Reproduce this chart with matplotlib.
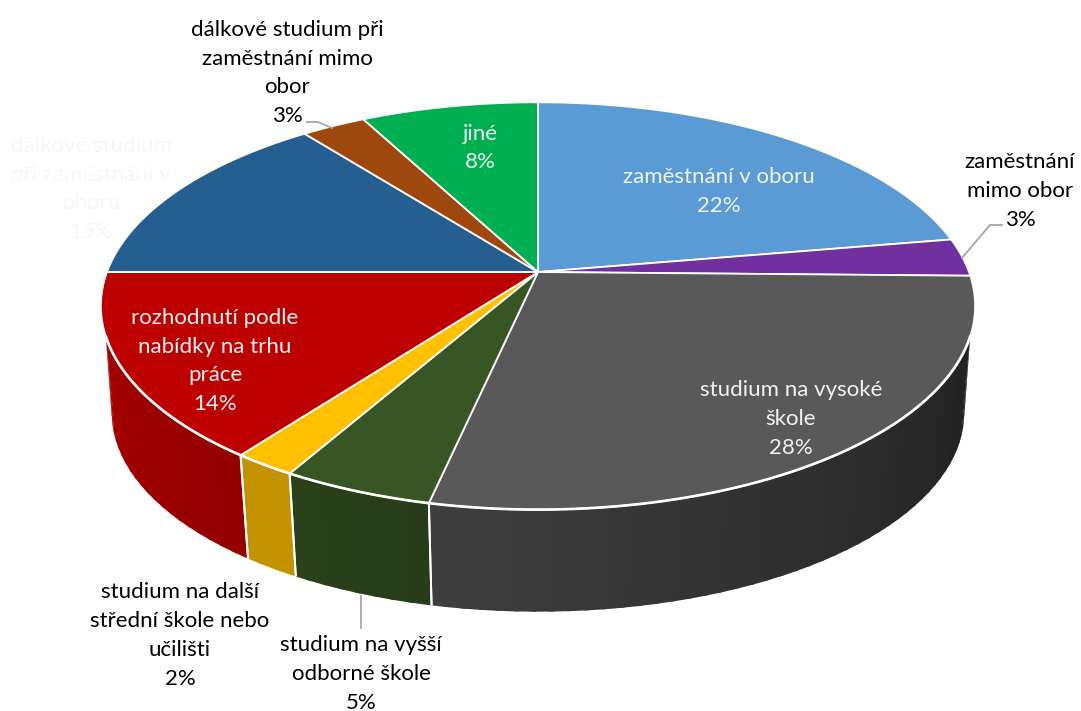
import numpy as np
import matplotlib
matplotlib.use("Agg")
import matplotlib.pyplot as plt
from matplotlib.patches import Polygon

# --- data ---
categories = ["zaměstnání v oboru", "zaměstnání\nmimo obor", "studium na vysoké\nškole",
              "studium na vyšší\nodborné škole", "studium na další\nstřední škole nebo\nučilišti",
              "rozhodnutí podle\nnabídky na trhu\npráce", "dálkové studium\npři zaměstnání v\noboru",
              "dálkové studium při\nzaměstnání mimo\nobor", "jiné"]
shares = [22.3, 3.0, 28.1, 4.8, 2.0, 14.8, 14.5, 2.8, 7.7]
percent_labels = ["22%", "3%", "28%", "5%", "2%", "14%", "15%", "3%", "8%"]

# --- styles ---
top_colors = ["#5B9BD5", "#7030A0", "#595959", "#375623", "#FFC000", "#BC0000", "#255E91", "#9E480E", "#00B050"]
side_right = ["#44749F", "#542478", "#1F1F1F", "#273C19", "#C49500", "#930000", "#1C466D", "#76360A", "#008440"]
side_left = ["#44749F", "#542478", "#3E3E3E", "#2A411B", "#C29100", "#A80000", "#1C466D", "#76360A", "#008440"]
label_colors = ["#F2F2F2", "#000000", "#F2F2F2", "#000000", "#000000", "#F2F2F2", "#F7F7F7", "#000000", "#F2F2F2"]
label_pos = [(719, 191.5), (1020, 191), (791, 419), (361, 674), (180, 635.5), (215, 361), (91, 189), (287, 73), (480, 148)]

CX, CY, A, B, K = 538.0, 272.0, 431.0, 198.0, 1.0 / 6.0
BOTTOM_SCALE, BOTTOM_CY = 0.975, 380.0
TOP_START, BOT_START = 108.0, 99.6   # visible wall limits, degrees clockwise from the top


def rim(t_deg, lower=False):
    t = np.radians(np.asarray(t_deg, dtype=float))
    u, v = np.sin(t), -np.cos(t)
    d = 1 - K * v
    if lower:
        return CX + BOTTOM_SCALE * A * u / d, BOTTOM_CY + BOTTOM_SCALE * B * v / d
    return CX + A * u / d, CY + B * v / d


fig = plt.figure(figsize=(10.81, 7.11), dpi=100, facecolor="white")
ax = fig.add_axes([0, 0, 1, 1])
ax.set_xlim(0, 1081)
ax.set_ylim(711, 0)
ax.axis("off")

edges = np.concatenate([[0], np.cumsum(shares) / np.sum(shares) * 360])


def hex_rgb(h):
    return np.array(matplotlib.colors.to_rgb(h))


# walls
for i in range(len(shares)):
    a0, a1 = edges[i], edges[i + 1]
    lo, hi = max(a0, BOT_START), min(a1, 360 - BOT_START)
    if lo >= hi:
        continue
    n = max(1, int((hi - lo) / 2))
    ts = np.linspace(lo, hi, n + 1)
    for j in range(n):
        f = (j + 0.5) / n
        col = hex_rgb(side_right[i]) * (1 - f) + hex_rgb(side_left[i]) * f
        # each strip overlaps the next so no seams show
        seg = np.linspace(ts[j], min(ts[j] + (hi - lo) / n * 1.3, hi), 8)
        up = np.clip(seg, TOP_START, 360 - TOP_START)
        xt, yt = rim(up)
        xb, yb = rim(seg, lower=True)
        pts = np.column_stack([np.r_[xt, xb[::-1]], np.r_[yt, yb[::-1]]])
        ax.add_patch(Polygon(pts, closed=True, facecolor=col, edgecolor="none", lw=0, zorder=2))
    # white wall separators
    for a in (a0, a1):
        if TOP_START < a < 360 - TOP_START:
            xt, yt = rim(a)
            xb, yb = rim(a, lower=True)
            ax.plot([xt, xb], [yt, yb], color="white", lw=1.4, zorder=3, solid_capstyle="butt")

# top faces
for i in range(len(shares)):
    ts = np.linspace(edges[i], edges[i + 1], 120)
    x, y = rim(ts)
    pts = np.column_stack([np.r_[CX, x], np.r_[CY, y]])
    ax.add_patch(Polygon(pts, closed=True, facecolor=top_colors[i], edgecolor="white",
                         lw=1.3, joinstyle="round", zorder=4))

# bright rim where the top meets the wall
rx, ry = rim(np.linspace(TOP_START, 360 - TOP_START, 300))
ax.plot(rx, ry, color="white", lw=1.9, zorder=4.5)

# leader lines
leader_color = "#A6A6A6"
ax.plot([962, 990, 1002], [258, 225, 225], color=leader_color, lw=1.3, zorder=5)
ax.plot([307, 318, 332], [122, 122, 128], color=leader_color, lw=1.3, zorder=5)
ax.plot([361, 361], [596, 628], color=leader_color, lw=1.3, zorder=1)

# labels
for name, pct, col, (lx, ly) in zip(categories, percent_labels, label_colors, label_pos):
    ax.text(lx, ly, name + "\n" + pct, color=col, ha="center", va="center",
            family="Lato", fontsize=16.0, linespacing=1.56, zorder=6)

fig.savefig("out.png", dpi=100)
